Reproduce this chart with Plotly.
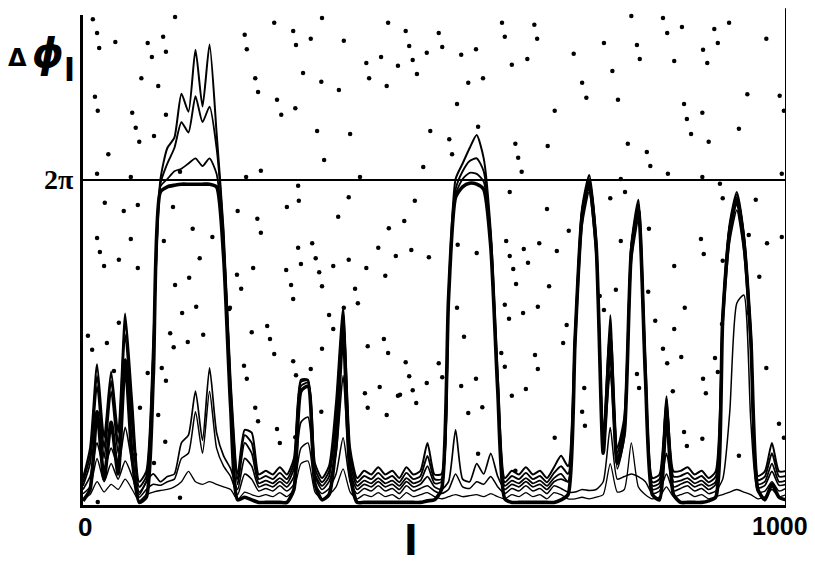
import plotly.graph_objects as go
import math

# positions along the chain, l = 0 ... 1000
L = list(range(0, 1001, 10))

# phase differences (rad) for the successive curves
A = [0.08,0.30,1.80,0.50,1.60,0.60,2.80,0.90,0.05,0.15,
     2.50,6.05,6.15,6.18,6.20,6.20,6.20,6.20,6.20,6.15,
     4.80,1.90,0.10,0.15,0.10,0.05,0.05,0.05,0.05,0.05,
     0.30,2.20,2.30,0.40,0.10,0.20,1.20,3.40,0.60,0.05,
     0.05,0.05,0.05,0.05,0.05,0.05,0.05,0.05,0.05,0.08,
     0.10,0.30,4.00,5.95,6.15,6.22,6.20,6.10,5.00,2.20,
     0.12,0.05,0.05,0.05,0.05,0.05,0.05,0.05,0.10,0.20,
     3.20,5.60,6.20,5.00,1.00,3.20,0.80,1.40,4.90,5.70,
     2.50,0.20,0.10,1.80,0.20,0.05,0.05,0.05,0.05,0.08,
     0.15,3.60,5.30,5.90,5.10,3.20,0.30,0.10,0.40,0.15,
     0.10]
B = [0.37,0.80,2.30,0.90,2.20,1.00,3.30,1.50,0.25,0.45,
     2.80,6.15,6.30,6.45,6.50,6.60,6.70,6.55,6.70,6.40,
     5.00,2.10,0.40,1.20,1.00,0.42,0.47,0.42,0.52,0.42,
     0.70,2.30,2.36,0.60,0.37,0.55,1.60,3.60,0.80,0.37,
     0.47,0.42,0.52,0.42,0.47,0.37,0.52,0.42,0.47,0.75,
     0.42,0.45,4.00,6.00,6.30,6.42,6.40,6.25,5.10,2.30,
     0.37,0.47,0.42,0.52,0.42,0.47,0.37,0.52,0.60,0.45,
     3.25,5.65,6.25,5.05,1.10,3.45,0.90,1.50,4.95,5.75,
     2.60,0.37,0.42,1.95,0.45,0.47,0.52,0.42,0.47,0.37,
     0.45,3.65,5.35,5.95,5.15,3.25,0.40,0.45,0.80,0.45,
     0.47]
C = [0.44,0.95,2.50,1.10,2.40,1.20,3.55,1.80,0.35,0.55,
     3.00,6.20,6.60,6.90,7.40,7.20,7.90,7.40,7.70,6.90,
     5.20,2.30,0.50,1.35,1.20,0.50,0.56,0.50,0.62,0.50,
     0.80,2.38,2.40,0.70,0.44,0.65,1.80,3.70,0.95,0.44,
     0.56,0.50,0.62,0.50,0.56,0.44,0.62,0.50,0.56,0.95,
     0.50,0.50,4.00,6.10,6.45,6.65,6.70,6.45,5.20,2.40,
     0.44,0.56,0.50,0.62,0.50,0.56,0.44,0.62,0.75,0.60,
     3.30,5.70,6.30,5.10,1.20,3.67,1.00,1.60,5.00,5.82,
     2.70,0.44,0.50,2.05,0.55,0.56,0.62,0.50,0.56,0.44,
     0.55,3.70,5.40,6.00,5.20,3.30,0.48,0.55,1.00,0.55,
     0.56]
D = [0.52,1.10,2.72,1.30,2.58,1.40,3.70,2.00,0.45,0.65,
     3.20,6.28,6.90,7.10,7.95,7.60,8.80,7.70,8.90,7.20,
     5.30,2.40,0.60,1.45,1.40,0.59,0.66,0.59,0.73,0.59,
     0.90,2.42,2.42,0.80,0.52,0.75,2.00,3.80,1.10,0.52,
     0.66,0.59,0.73,0.59,0.66,0.52,0.73,0.59,0.66,1.20,
     0.59,0.60,4.10,6.30,6.60,6.90,7.15,6.70,5.30,2.50,
     0.52,0.66,0.59,0.73,0.59,0.66,0.52,0.73,0.95,0.75,
     3.35,5.75,6.38,5.15,1.30,3.00,1.10,1.70,5.05,5.90,
     2.80,0.52,0.59,2.10,0.65,0.66,0.73,0.59,0.66,0.52,
     0.65,3.75,5.45,6.05,5.25,3.35,0.56,0.65,1.20,0.65,
     0.66]
E = [0.12,0.20,0.45,0.25,0.40,0.30,0.50,0.30,0.08,0.20,
     0.25,0.28,0.30,0.35,0.45,0.65,0.45,0.40,0.45,0.40,
     0.35,0.30,0.10,0.25,0.20,0.16,0.20,0.16,0.24,0.16,
     0.30,0.80,0.85,0.25,0.12,0.20,0.35,0.70,0.25,0.12,
     0.20,0.16,0.24,0.16,0.20,0.12,0.24,0.16,0.20,0.24,
     0.16,0.12,0.16,0.20,0.16,0.18,0.20,0.16,0.22,0.16,
     0.12,0.20,0.16,0.24,0.16,0.20,0.12,0.24,0.20,0.12,
     0.12,0.15,0.12,0.15,0.20,0.80,0.25,0.30,1.20,0.35,
     0.20,0.12,0.16,0.35,0.16,0.20,0.24,0.16,0.20,0.12,
     0.16,0.20,0.25,0.30,0.25,0.20,0.12,0.16,0.30,0.16,
     0.20]
F = [0.22,0.35,0.90,0.45,0.80,0.50,0.85,0.55,0.15,0.30,
     0.40,0.38,0.45,0.50,0.90,1.00,1.80,1.00,2.20,1.10,
     0.75,0.55,0.20,0.60,0.50,0.27,0.32,0.27,0.37,0.27,
     0.40,1.10,1.20,0.40,0.22,0.32,0.60,1.30,0.45,0.22,
     0.32,0.27,0.37,0.27,0.32,0.22,0.37,0.27,0.32,0.37,
     0.27,0.22,0.30,0.60,0.35,0.32,0.45,0.40,0.55,0.35,
     0.22,0.32,0.27,0.37,0.27,0.32,0.22,0.37,0.32,0.25,
     0.25,0.30,0.28,0.30,0.45,1.50,0.50,0.55,0.60,0.55,
     0.45,0.22,0.27,0.60,0.27,0.32,0.37,0.27,0.32,0.22,
     0.27,0.50,1.80,3.90,4.06,1.60,0.25,0.27,0.45,0.27,
     0.32]
G = [0.30,0.55,1.20,0.70,1.10,0.75,1.50,0.80,0.20,0.45,
     0.60,0.45,0.55,0.60,1.20,1.35,2.20,1.25,2.65,1.40,
     0.95,0.70,0.30,0.90,0.75,0.35,0.40,0.35,0.45,0.35,
     0.55,1.60,1.70,0.55,0.30,0.45,1.00,2.50,0.65,0.30,
     0.40,0.35,0.45,0.35,0.40,0.30,0.45,0.35,0.40,0.55,
     0.35,0.30,0.45,1.45,0.50,0.45,0.80,0.60,1.00,0.55,
     0.30,0.40,0.35,0.45,0.35,0.40,0.30,0.45,0.50,0.45,
     3.00,5.40,6.05,4.80,1.00,2.60,0.70,1.30,4.70,5.50,
     2.30,0.30,0.35,1.00,0.35,0.40,0.45,0.35,0.40,0.30,
     0.40,3.40,5.10,5.70,4.90,3.00,0.33,0.38,0.65,0.38,
     0.40]

# scattered dots in the background
dot_L = [14,20,23,46,131,92,114,98,118,83,107,17,21,70,118,75,101,80,36,20,
         68,138,230,233,272,299,303,245,249,276,282,302,232,253,306,31,58,78,128,220,
         248,253,290,307,20,68,115,156,184,306,
         340,324,371,424,403,407,313,339,364,333,380,343,394,378,363,326,331,310,336,356,
         378,403,420,430,296,340,387,299,371,391,
         434,459,464,469,448,475,432,489,506,511,538,559,548,569,532,494,521,525,484,562,
         596,600,642,646,632,610,615,619,624,661,671,698,710,716,741,753,761,780,788,792,
         825,831,852,841,882,888,898,903,919,972,945,991,997,855,859,865,881,890,933,775,
         802,807,832,881,994,765,906,910,957,994,973,879,883,910,947,962,841,805,765,750,
         771,691,674,663,649,660,607,602,607,612,616,627,633,560,533,492,467,445,435,457,
         472,758,804,735,
         741,814,841,856,825,831,851,791,788,839,855,859,881,882,886,899,903,909,947,972,
         990,997,683,671,713,710,714,688,933,459,464,469,474,489,506,511,532,542,538,559,
         548,568,562,600,606,626,647,643,647,630,610,600,595,615,451,
         7,13,34,44,51,81,74,92,101,107,112,118,117,124,129,141,149,161,171,138,
         21,208,229,233,240,262,266,272,245,249,276,280,299,303,324,302,340,350,356,339,
         405,428,434,401,405,422,432,448,
         24,51,30,78,166,151,131,289,242,219,225,209]
dot_phi = [9.39,9.12,8.83,8.95,9.43,8.93,9.05,8.66,8.76,8.25,8.10,7.89,7.62,7.58,7.54,7.29,7.13,7.02,6.78,6.40,
           6.34,6.44,9.09,8.81,9.32,9.16,8.89,8.25,7.98,7.83,7.54,7.67,6.34,6.46,6.17,5.84,5.68,5.80,5.76,5.68,
           5.53,5.26,5.76,5.88,5.16,5.14,5.10,5.34,5.18,4.97,
           9.41,9.01,8.97,8.66,8.54,8.25,8.35,8.18,8.02,7.23,7.17,6.67,6.34,5.95,5.57,5.06,4.77,4.66,4.50,4.62,
           4.74,4.58,4.97,4.43,4.25,4.23,4.18,3.98,3.81,3.90,
           9.32,9.16,8.87,8.60,8.49,8.33,8.10,8.74,9.12,8.85,8.70,8.81,8.16,8.25,7.75,7.23,7.07,6.78,6.53,7.31,
           9.32,9.05,9.28,9.01,8.62,8.51,6.98,6.71,6.44,6.94,7.62,8.72,8.16,7.87,8.93,8.39,7.83,9.45,8.89,8.62,
           9.41,9.12,9.24,8.58,8.80,8.54,9.20,8.93,9.32,9.01,7.94,7.91,7.62,7.75,7.46,7.17,7.58,7.02,7.27,6.98,
           6.82,6.55,6.40,6.34,6.40,6.30,6.21,5.93,5.90,5.18,5.06,5.14,4.85,4.72,5.22,4.41,4.62,5.34,5.10,5.93,
           6.05,5.30,4.91,4.23,5.06,5.72,6.05,5.10,4.81,4.56,4.27,4.95,4.68,4.87,5.03,4.79,4.93,4.81,5.35,5.49,
           5.88,4.16,4.12,4.04,
           3.77,3.56,3.40,3.81,3.02,2.74,2.86,2.26,2.53,2.20,1.41,1.14,1.28,2.44,2.16,2.84,2.57,3.50,3.71,2.65,
           1.57,1.30,3.13,1.30,2.26,1.80,1.53,3.48,0.95,2.76,2.49,2.22,1.97,2.36,2.74,2.47,3.81,3.25,2.30,2.44,
           1.78,1.89,0.99,3.87,3.60,3.71,3.83,2.90,2.63,2.24,2.11,2.67,2.94,0.66,2.13,
           3.27,3.00,3.13,2.59,3.52,1.88,0.97,2.55,0.81,1.74,2.65,2.40,1.22,3.32,3.05,3.71,3.15,3.83,3.29,0.14,
           0.06,3.79,2.69,2.44,3.34,3.46,3.21,2.92,1.88,1.62,1.47,1.20,2.78,2.51,2.63,1.31,3.02,3.67,3.40,1.80,
           3.07,3.21,2.94,2.16,1.88,2.28,1.74,2.11,
           4.89,4.74,4.62,4.58,4.77,4.39,4.25,4.54,4.58,4.45,4.18,3.81]

TWO_PI = 2 * math.pi
x_ticks = [0, 1000]
x_tick_text = ["0", "1000"]

fig = go.Figure()

fig.add_trace(go.Scatter(x=dot_L, y=dot_phi, mode="markers",
                         marker=dict(color="black", size=4.5),
                         cliponaxis=False, hoverinfo="skip"))

for series, w in [(E, 1.3), (F, 1.5), (G, 1.7), (B, 1.8), (C, 1.9), (D, 2.0), (A, 3.6)]:
    fig.add_trace(go.Scatter(x=L, y=series, mode="lines",
                             line=dict(color="black", width=w, shape="spline", smoothing=0.6)))

fig.add_trace(go.Scatter(x=[0, 1000], y=[TWO_PI, TWO_PI], mode="lines",
                         line=dict(color="black", width=2)))

tick_font = "Liberation Sans, Arial, sans-serif"

# the page body adds an 8px offset, so the figure is sized and placed to compensate
fig.update_layout(
    width=807, height=557,
    margin=dict(l=75, r=29, t=7, b=60),
    paper_bgcolor="white", plot_bgcolor="white",
    showlegend=False,
    xaxis=dict(range=[0, 1000], showgrid=False, zeroline=False,
               showline=True, linecolor="black", linewidth=3,
               tickvals=x_ticks, ticktext=["", ""], ticks=""),
    yaxis=dict(range=[0, 9.47], showgrid=False, zeroline=False,
               showline=True, linecolor="black", linewidth=3,
               showticklabels=False, ticks=""),
    shapes=[dict(type="line", xref="x", yref="paper", x0=1000, x1=1000,
                 y0=0, y1=1.014, line=dict(color="black", width=2))],
)

ann = [
    dict(x=x_ticks[0], xref="x", y=-0.045, yref="paper", text="<b>%s</b>" % x_tick_text[0],
         showarrow=False, xanchor="center", yanchor="middle", xshift=2,
         font=dict(family=tick_font, size=26, color="black", weight="bold")),
    dict(x=x_ticks[1], xref="x", y=-0.043, yref="paper", text="<b>%s</b>" % x_tick_text[1],
         showarrow=False, xanchor="right", yanchor="middle", xshift=24,
         font=dict(family=tick_font, size=25, color="black", weight="bold")),
    dict(x=(411 - 83) / 703, xref="paper", y=-0.074, yref="paper", text="<b>l</b>",
         showarrow=False, xanchor="center", yanchor="middle",
         font=dict(family="DejaVu Sans", size=40, color="black")),
    dict(x=-0.034, xref="paper", y=TWO_PI, yref="y", text="<b>2π</b>",
         showarrow=False, xanchor="center", yanchor="middle",
         font=dict(family="Liberation Serif, serif", size=28, color="black")),
    dict(x=-0.0925, xref="paper", y=0.912, yref="paper", text="<b>Δ</b>",
         showarrow=False, xanchor="center", yanchor="middle",
         font=dict(family="DejaVu Sans", size=24, color="black")),
    dict(x=-0.0498, xref="paper", y=0.922, yref="paper", text="<b><i>ϕ</i></b>",
         showarrow=False, xanchor="center", yanchor="middle",
         font=dict(family="DejaVu Sans", size=40, color="black")),
    dict(x=-0.0199, xref="paper", y=0.888, yref="paper", text="<b>l</b>",
         showarrow=False, xanchor="center", yanchor="middle",
         font=dict(family="DejaVu Sans", size=32, color="black")),
]
fig.update_layout(annotations=ann)

fig.write_html("out.html")
